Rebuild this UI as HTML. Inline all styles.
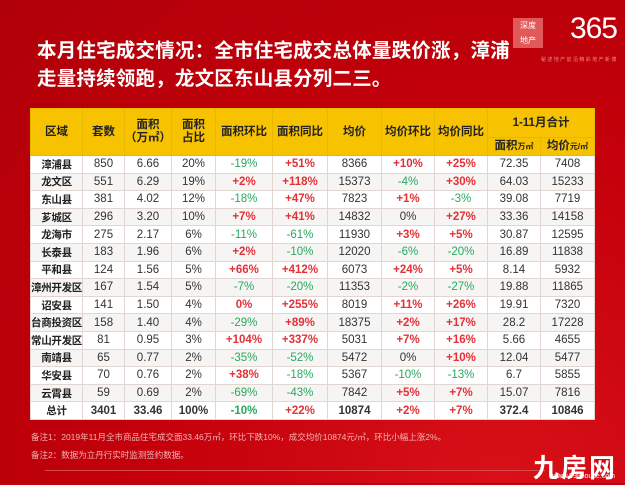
<!DOCTYPE html>
<html><head><meta charset="utf-8"><style>
*{margin:0;padding:0;box-sizing:border-box}
body{width:625px;height:483px;overflow:hidden;background:#c4000b;font-family:"Liberation Sans","Noto Sans CJK SC",sans-serif;position:relative}
.bg{position:absolute;inset:0;background:radial-gradient(ellipse at 80% 100%,#d81018 0%,#c4000b 50%,#b00008 100%)}
.title{position:absolute;left:37px;top:37px;color:#fff;font-weight:bold;font-size:19.5px;line-height:28px;letter-spacing:0.2px;white-space:nowrap}
table{position:absolute;left:30px;top:108px;width:564px;border-collapse:collapse;table-layout:fixed;font-size:11.5px;color:#333}
td,th{border:1px solid #e2d6d0;text-align:center;height:17.6px;padding:0;white-space:nowrap;overflow:hidden}
th{background:#f7c200;color:#222;font-weight:bold;font-size:11.5px;border-color:#e8b800;line-height:13px}
tbody td:first-child{font-weight:bold;color:#222;font-size:10.5px;letter-spacing:-0.3px}
tbody tr{background:#fff}
tbody tr:nth-child(even){background:#f7f4f4}
.g{color:#27a95e}.r{color:#e23137;font-weight:bold}
.tot td{font-weight:bold}
.note{position:absolute;left:31px;color:#f1b5b5;font-size:8.5px}
.logo{position:absolute;right:8px;top:8px;color:#fff}
</style></head><body><div class="bg"></div>
<div class="title">本月住宅成交情况：全市住宅成交总体量跌价涨，漳浦<br>走量持续领跑，龙文区东山县分列二三。</div>
<div class="logo"><div style="position:absolute;right:74px;top:10px;width:30px;height:30px;background:#e05a5a;font-size:8px;line-height:15px;text-align:center">深度<br>地产</div><div style="position:absolute;right:0;top:4px;font-size:30px;font-weight:300;letter-spacing:-1px">365</div><div style="position:absolute;right:0;top:48px;width:76px;font-size:5px;color:#e88">秘 述 地 产 前 沿 精 彩 地 产 新 博</div></div>
<table>
<colgroup><col style="width:52px"><col style="width:42px"><col style="width:47px"><col style="width:44px"><col style="width:57px"><col style="width:55px"><col style="width:54px"><col style="width:53px"><col style="width:53px"><col style="width:53px"><col style="width:54px"></colgroup>
<thead><tr><th rowspan="2">区域</th><th rowspan="2">套数</th><th rowspan="2">面积<br>（万㎡）</th><th rowspan="2">面积<br>占比</th><th rowspan="2">面积环比</th><th rowspan="2">面积同比</th><th rowspan="2">均价</th><th rowspan="2">均价环比</th><th rowspan="2">均价同比</th><th colspan="2" style="height:29px">1-11月合计</th></tr>
<tr><th style="height:18px">面积<span style="font-size:8px">万㎡</span></th><th>均价<span style="font-size:8px">元/㎡</span></th></tr></thead>
<tbody>
<tr><td>漳浦县</td><td>850</td><td>6.66</td><td>20%</td><td class="g">-19%</td><td class="r">+51%</td><td>8366</td><td class="r">+10%</td><td class="r">+25%</td><td>72.35</td><td>7408</td></tr>
<tr><td>龙文区</td><td>551</td><td>6.29</td><td>19%</td><td class="r">+2%</td><td class="r">+118%</td><td>15373</td><td class="g">-4%</td><td class="r">+30%</td><td>64.03</td><td>15233</td></tr>
<tr><td>东山县</td><td>381</td><td>4.02</td><td>12%</td><td class="g">-18%</td><td class="r">+47%</td><td>7823</td><td class="r">+1%</td><td class="g">-3%</td><td>39.08</td><td>7719</td></tr>
<tr><td>芗城区</td><td>296</td><td>3.20</td><td>10%</td><td class="r">+7%</td><td class="r">+41%</td><td>14832</td><td>0%</td><td class="r">+27%</td><td>33.36</td><td>14158</td></tr>
<tr><td>龙海市</td><td>275</td><td>2.17</td><td>6%</td><td class="g">-11%</td><td class="g">-61%</td><td>11930</td><td class="r">+3%</td><td class="r">+5%</td><td>30.87</td><td>12595</td></tr>
<tr><td>长泰县</td><td>183</td><td>1.96</td><td>6%</td><td class="r">+2%</td><td class="g">-10%</td><td>12020</td><td class="g">-6%</td><td class="g">-20%</td><td>16.89</td><td>11838</td></tr>
<tr><td>平和县</td><td>124</td><td>1.56</td><td>5%</td><td class="r">+66%</td><td class="r">+412%</td><td>6073</td><td class="r">+24%</td><td class="r">+5%</td><td>8.14</td><td>5932</td></tr>
<tr><td>漳州开发区</td><td>167</td><td>1.54</td><td>5%</td><td class="g">-7%</td><td class="g">-20%</td><td>11353</td><td class="g">-2%</td><td class="g">-27%</td><td>19.88</td><td>11865</td></tr>
<tr><td>诏安县</td><td>141</td><td>1.50</td><td>4%</td><td class="r">0%</td><td class="r">+255%</td><td>8019</td><td class="r">+11%</td><td class="r">+26%</td><td>19.91</td><td>7320</td></tr>
<tr><td>台商投资区</td><td>158</td><td>1.40</td><td>4%</td><td class="g">-29%</td><td class="r">+89%</td><td>18375</td><td class="r">+2%</td><td class="r">+17%</td><td>28.2</td><td>17228</td></tr>
<tr><td>常山开发区</td><td>81</td><td>0.95</td><td>3%</td><td class="r">+104%</td><td class="r">+337%</td><td>5031</td><td class="r">+7%</td><td class="r">+16%</td><td>5.66</td><td>4655</td></tr>
<tr><td>南靖县</td><td>65</td><td>0.77</td><td>2%</td><td class="g">-35%</td><td class="g">-52%</td><td>5472</td><td>0%</td><td class="r">+10%</td><td>12.04</td><td>5477</td></tr>
<tr><td>华安县</td><td>70</td><td>0.76</td><td>2%</td><td class="r">+38%</td><td class="g">-18%</td><td>5367</td><td class="g">-10%</td><td class="g">-13%</td><td>6.7</td><td>5855</td></tr>
<tr><td>云霄县</td><td>59</td><td>0.69</td><td>2%</td><td class="g">-69%</td><td class="g">-43%</td><td>7842</td><td class="r">+5%</td><td class="r">+7%</td><td>15.07</td><td>7816</td></tr>
<tr class="tot"><td>总计</td><td>3401</td><td>33.46</td><td>100%</td><td class="g">-10%</td><td class="r">+22%</td><td>10874</td><td class="r">+2%</td><td class="r">+7%</td><td>372.4</td><td>10846</td></tr>
</tbody></table>
<div class="note" style="top:431px">备注1：2019年11月全市商品住宅成交面33.46万㎡，环比下跌10%，成交均价10874元/㎡，环比小幅上涨2%。</div>
<div class="note" style="top:449px">备注2：数据为立丹行实时监测签约数据。</div>
<div style="position:absolute;left:45px;top:470px;width:500px;height:1px;background:#d84a4a"></div>
<div style="position:absolute;right:8px;top:448px;color:#fff;font-size:26px;font-weight:bold;letter-spacing:2px">九房网</div>
<div style="position:absolute;right:10px;top:473px;color:#fff;font-size:7px">www.999house.com</div>
</body></html>
